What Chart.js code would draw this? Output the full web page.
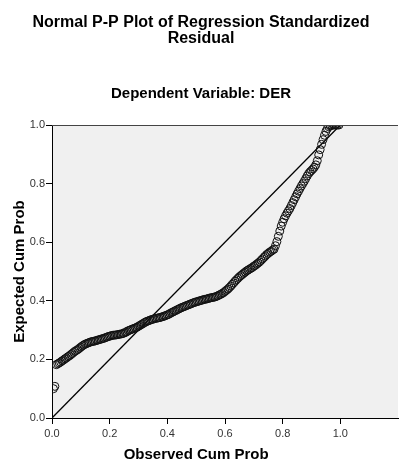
<!DOCTYPE html>
<html>
<head>
<meta charset="utf-8">
<script src="https://cdn.jsdelivr.net/npm/chart.js@4.4.0/dist/chart.umd.min.js"></script>
<style>
  html, body { margin: 0; padding: 0; background: #fff; }
  canvas { display: block; }
</style>
</head>
<body>
<canvas id="pp" width="403" height="462"></canvas>
<script>
// Observed cumulative probability (x) and expected cumulative probability (y)
const obsCum = [
  0.005, 0.010,
  0.015, 0.020, 0.025, 0.030, 0.035, 0.040, 0.045, 0.050, 0.055, 0.060,
  0.065, 0.070, 0.075, 0.080, 0.085, 0.090, 0.095, 0.100, 0.105, 0.110,
  0.115, 0.120, 0.125, 0.130, 0.135, 0.140, 0.145, 0.150, 0.155, 0.160,
  0.165, 0.170, 0.175, 0.180, 0.185, 0.190, 0.195, 0.200, 0.205, 0.210,
  0.215, 0.220, 0.225, 0.230, 0.235, 0.240, 0.245, 0.250, 0.255, 0.260,
  0.265, 0.270, 0.275, 0.280, 0.285, 0.290, 0.295, 0.300, 0.305, 0.310,
  0.315, 0.320, 0.325, 0.330, 0.335, 0.340, 0.345, 0.350, 0.355, 0.360,
  0.365, 0.370, 0.375, 0.380, 0.385, 0.390, 0.395, 0.400, 0.405, 0.410,
  0.415, 0.420, 0.425, 0.430, 0.435, 0.440, 0.445, 0.450, 0.455, 0.460,
  0.465, 0.470, 0.475, 0.480, 0.485, 0.490, 0.495, 0.500, 0.505, 0.510,
  0.515, 0.520, 0.525, 0.530, 0.535, 0.540, 0.545, 0.550, 0.555, 0.560,
  0.565, 0.570, 0.575, 0.580, 0.585, 0.590, 0.595, 0.600, 0.605, 0.610,
  0.615, 0.620, 0.625, 0.630, 0.635, 0.640, 0.645, 0.650, 0.655, 0.660,
  0.665, 0.670, 0.675, 0.680, 0.685, 0.690, 0.695, 0.700, 0.705, 0.710,
  0.715, 0.720, 0.725, 0.730, 0.735, 0.740, 0.745, 0.750, 0.755, 0.760,
  0.765, 0.770,
  0.775, 0.780, 0.785, 0.790, 0.795, 0.800, 0.805, 0.810, 0.815, 0.820,
  0.825, 0.830, 0.835, 0.840, 0.845, 0.850, 0.855, 0.860, 0.865, 0.870,
  0.875, 0.880, 0.885, 0.890, 0.895, 0.900, 0.905, 0.910, 0.915, 0.920,
  0.925, 0.930, 0.935, 0.940, 0.945, 0.950, 0.955, 0.960, 0.965, 0.970,
  0.975, 0.980, 0.985, 0.990, 0.995
];
const expCum = [
  0.100, 0.108,
  0.182, 0.185, 0.188, 0.191, 0.195, 0.198, 0.202, 0.205, 0.209, 0.212,
  0.216, 0.220, 0.224, 0.228, 0.231, 0.234, 0.238, 0.242, 0.246, 0.249,
  0.252, 0.254, 0.256, 0.258, 0.260, 0.261, 0.262, 0.263, 0.265, 0.266,
  0.268, 0.269, 0.271, 0.272, 0.274, 0.276, 0.278, 0.279, 0.281, 0.282,
  0.283, 0.283, 0.284, 0.285, 0.286, 0.287, 0.288, 0.290, 0.292, 0.295,
  0.298, 0.300, 0.302, 0.304, 0.306, 0.308, 0.310, 0.313, 0.316, 0.319,
  0.322, 0.325, 0.328, 0.330, 0.332, 0.334, 0.336, 0.337, 0.339, 0.340,
  0.341, 0.342, 0.343, 0.345, 0.346, 0.348, 0.350, 0.352, 0.354, 0.357,
  0.360, 0.362, 0.365, 0.367, 0.370, 0.372, 0.375, 0.377, 0.379, 0.381,
  0.383, 0.385, 0.387, 0.389, 0.391, 0.393, 0.395, 0.396, 0.398, 0.399,
  0.401, 0.402, 0.404, 0.405, 0.406, 0.407, 0.409, 0.410, 0.411, 0.412,
  0.413, 0.415, 0.417, 0.420, 0.422, 0.425, 0.428, 0.432, 0.436, 0.440,
  0.445, 0.450, 0.456, 0.461, 0.467, 0.472, 0.477, 0.482, 0.486, 0.490,
  0.494, 0.498, 0.502, 0.505, 0.508, 0.511, 0.514, 0.518, 0.521, 0.525,
  0.529, 0.533, 0.538, 0.543, 0.548, 0.553, 0.558, 0.562, 0.566, 0.569,
  0.573, 0.576,
  0.588, 0.602, 0.620, 0.638, 0.655, 0.668, 0.680, 0.690, 0.699, 0.707,
  0.715, 0.725, 0.735, 0.745, 0.755, 0.765, 0.774, 0.783, 0.792, 0.800,
  0.808, 0.817, 0.826, 0.834, 0.840, 0.845, 0.850, 0.856, 0.864, 0.878,
  0.898, 0.916, 0.934, 0.950, 0.965, 0.978, 0.988, 0.994, 0.997, 0.999,
  1.000, 1.000, 1.000, 1.000, 1.000
];
// reference diagonal
const diagX = [0, 1];
const diagY = [0, 1];
const tickValues = [0, 0.2, 0.4, 0.6, 0.8, 1.0];

const titleLines = ['Normal P-P Plot of Regression Standardized', 'Residual'];
const subTitle = 'Dependent Variable: DER';
const xTitle = 'Observed Cum Prob';
const yTitle = 'Expected Cum Prob';

const FONT = "'Liberation Sans', Arial, sans-serif";

const points = obsCum.map((x, i) => ({ x: x, y: expCum[i] }));
const diag = diagX.map((x, i) => ({ x: x, y: diagY[i] }));

// background, frame and titles
const decor = {
  id: 'decor',
  beforeDraw(chart) {
    const { ctx, chartArea: a } = chart;
    ctx.save();
    ctx.fillStyle = '#fff';
    ctx.fillRect(0, 0, chart.width, chart.height);
    ctx.fillStyle = '#f0f0f0';
    ctx.fillRect(a.left, a.top, a.right - a.left, a.bottom - a.top);
    ctx.restore();
  },
  afterDraw(chart) {
    const { ctx, chartArea: a, scales } = chart;
    ctx.save();
    // top frame line
    ctx.strokeStyle = '#444';
    ctx.lineWidth = 1;
    ctx.beginPath();
    ctx.moveTo(a.left, a.top + 0.5);
    ctx.lineTo(a.right, a.top + 0.5);
    ctx.stroke();

    ctx.fillStyle = '#000';
    ctx.textAlign = 'center';
    ctx.textBaseline = 'alphabetic';
    ctx.font = 'bold 16px ' + FONT;
    ctx.fillText(titleLines[0], 201, 27);
    ctx.fillText(titleLines[1], 201, 43);
    ctx.font = 'bold 15px ' + FONT;
    ctx.fillText(subTitle, 201, 98);

    const xMid = (scales.x.getPixelForValue(0) + scales.x.getPixelForValue(1)) / 2;
    ctx.fillText(xTitle, xMid, 459);

    ctx.translate(24, (a.top + a.bottom) / 2);
    ctx.rotate(-Math.PI / 2);
    ctx.fillText(yTitle, 0, 0);
    ctx.restore();
  }
};

new Chart(document.getElementById('pp'), {
  type: 'scatter',
  data: {
    datasets: [
      {
        data: points,
        pointStyle: 'circle',
        pointRadius: 4,
        pointHoverRadius: 4,
        pointBorderWidth: 1,
        pointBorderColor: '#111',
        pointBackgroundColor: 'rgba(0,0,0,0)',
        showLine: false
      },
      {
        type: 'line',
        data: diag,
        borderColor: '#000',
        borderWidth: 1.3,
        pointRadius: 0,
        fill: false
      }
    ]
  },
  plugins: [decor],
  options: {
    responsive: false,
    animation: false,
    devicePixelRatio: 1,
    layout: { padding: { top: 125, left: 0, right: 0, bottom: 0 } },
    plugins: {
      legend: { display: false },
      tooltip: { enabled: false },
      title: { display: false }
    },
    scales: {
      x: {
        type: 'linear',
        min: 0,
        max: 1.2,
        afterBuildTicks(scale) {
          scale.ticks = tickValues.map(v => ({ value: v }));
        },
        afterFit(scale) { scale.height = 44; },
        border: { display: true, color: '#000', width: 1 },
        grid: { drawOnChartArea: false, drawTicks: true, tickLength: 6, color: '#000' },
        ticks: {
          padding: 3,
          color: '#333',
          font: { family: FONT, size: 11 },
          callback: v => v.toFixed(1)
        }
      },
      y: {
        type: 'linear',
        min: 0,
        max: 1,
        afterBuildTicks(scale) {
          scale.ticks = tickValues.map(v => ({ value: v }));
        },
        afterFit(scale) { scale.width = 52; },
        border: { display: true, color: '#000', width: 1 },
        grid: { drawOnChartArea: false, drawTicks: true, tickLength: 6, color: '#000' },
        ticks: {
          padding: 1,
          color: '#333',
          font: { family: FONT, size: 11 },
          callback: v => v.toFixed(1)
        }
      }
    }
  }
});
</script>
</body>
</html>
